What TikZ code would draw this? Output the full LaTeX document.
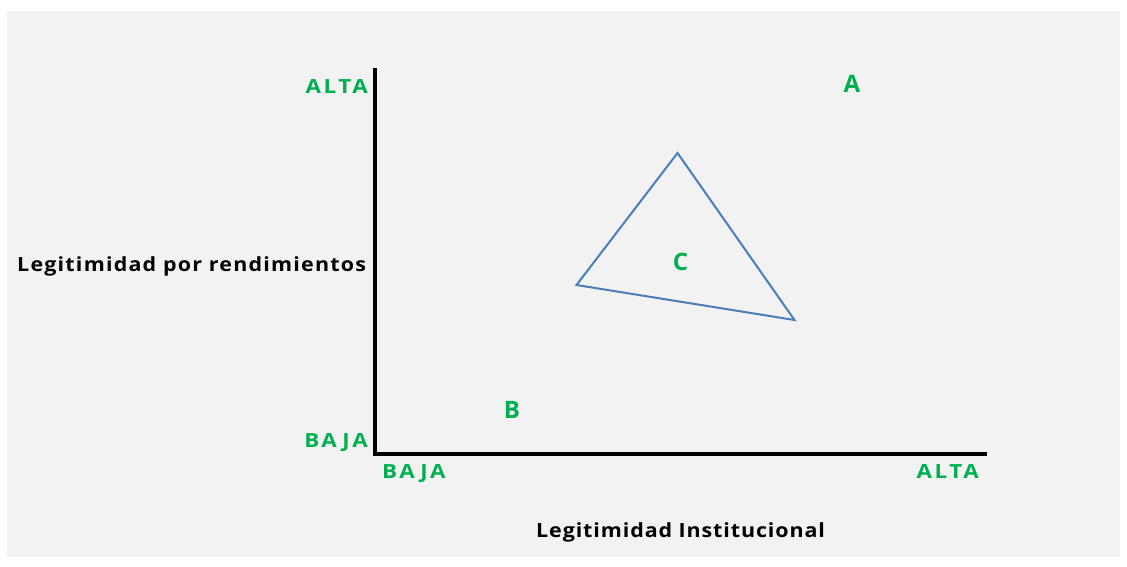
\documentclass[tikz,border=0pt]{standalone}
\usepackage{fontspec}
\setmainfont{Open Sans}
\newfontfamily\spaced[LetterSpace=13,FakeStretch=1.15]{Open Sans}
\newfontfamily\spacedy[LetterSpace=6.2,FakeStretch=1.1]{Open Sans}
\newfontfamily\spacedx[LetterSpace=4.6,FakeStretch=1.1]{Open Sans}
\definecolor{lgreen}{HTML}{00B050}
\definecolor{tricol}{HTML}{4A7EBB}
\definecolor{bgcol}{HTML}{F2F2F2}
\begin{document}
\begin{tikzpicture}[x=1pt,y=-1pt,
  lbl/.style={text=lgreen,font=\spaced\bfseries\fontsize{19.5}{20}\selectfont,inner sep=0pt},
  letter/.style={text=lgreen,font=\bfseries\fontsize{24}{26}\selectfont,inner sep=0pt},
  axlbl/.style={text=black,inner sep=0pt},
  axis/.style={line width=3.3pt},
  tri/.style={draw=tricol,line width=2pt}]
\useasboundingbox (0,0) rectangle (1127,566);
\fill[bgcol] (7,11) rectangle (1120,557);
\coordinate (Ytop) at (375,68);
\coordinate (O) at (375,454);
\coordinate (Xend) at (987,454);
\draw[axis] (Ytop) -- (O) -- (Xend);
\coordinate (T1) at (677.5,153);
\coordinate (T2) at (576.5,285);
\coordinate (T3) at (794.5,320);
\draw[tri] (T1) -- (T2) -- (T3) -- cycle;
\node[lbl,anchor=base east] (yalta) at (368,93) {ALTA};
\node[lbl,anchor=base east] (ybaja) at (368,447) {BAJA};
\node[lbl,anchor=base west] (xbaja) at (382,478) {BAJA};
\node[lbl,anchor=base east] (xalta) at (979,478) {ALTA};
\node[letter,anchor=base] (A) at (852,92) {A};
\node[letter,anchor=base] (B) at (512,418) {B};
\node[letter,anchor=base] (C) at (680.5,270) {C};
\node[axlbl,font=\spacedy\bfseries\fontsize{19.5}{20}\selectfont,anchor=base west] (ylab) at (17,271) {Legitimidad por rendimientos};
\node[axlbl,font=\spacedx\bfseries\fontsize{19.5}{20}\selectfont,anchor=base west] (xlab) at (536,537) {Legitimidad Institucional};
\end{tikzpicture}
\end{document}
